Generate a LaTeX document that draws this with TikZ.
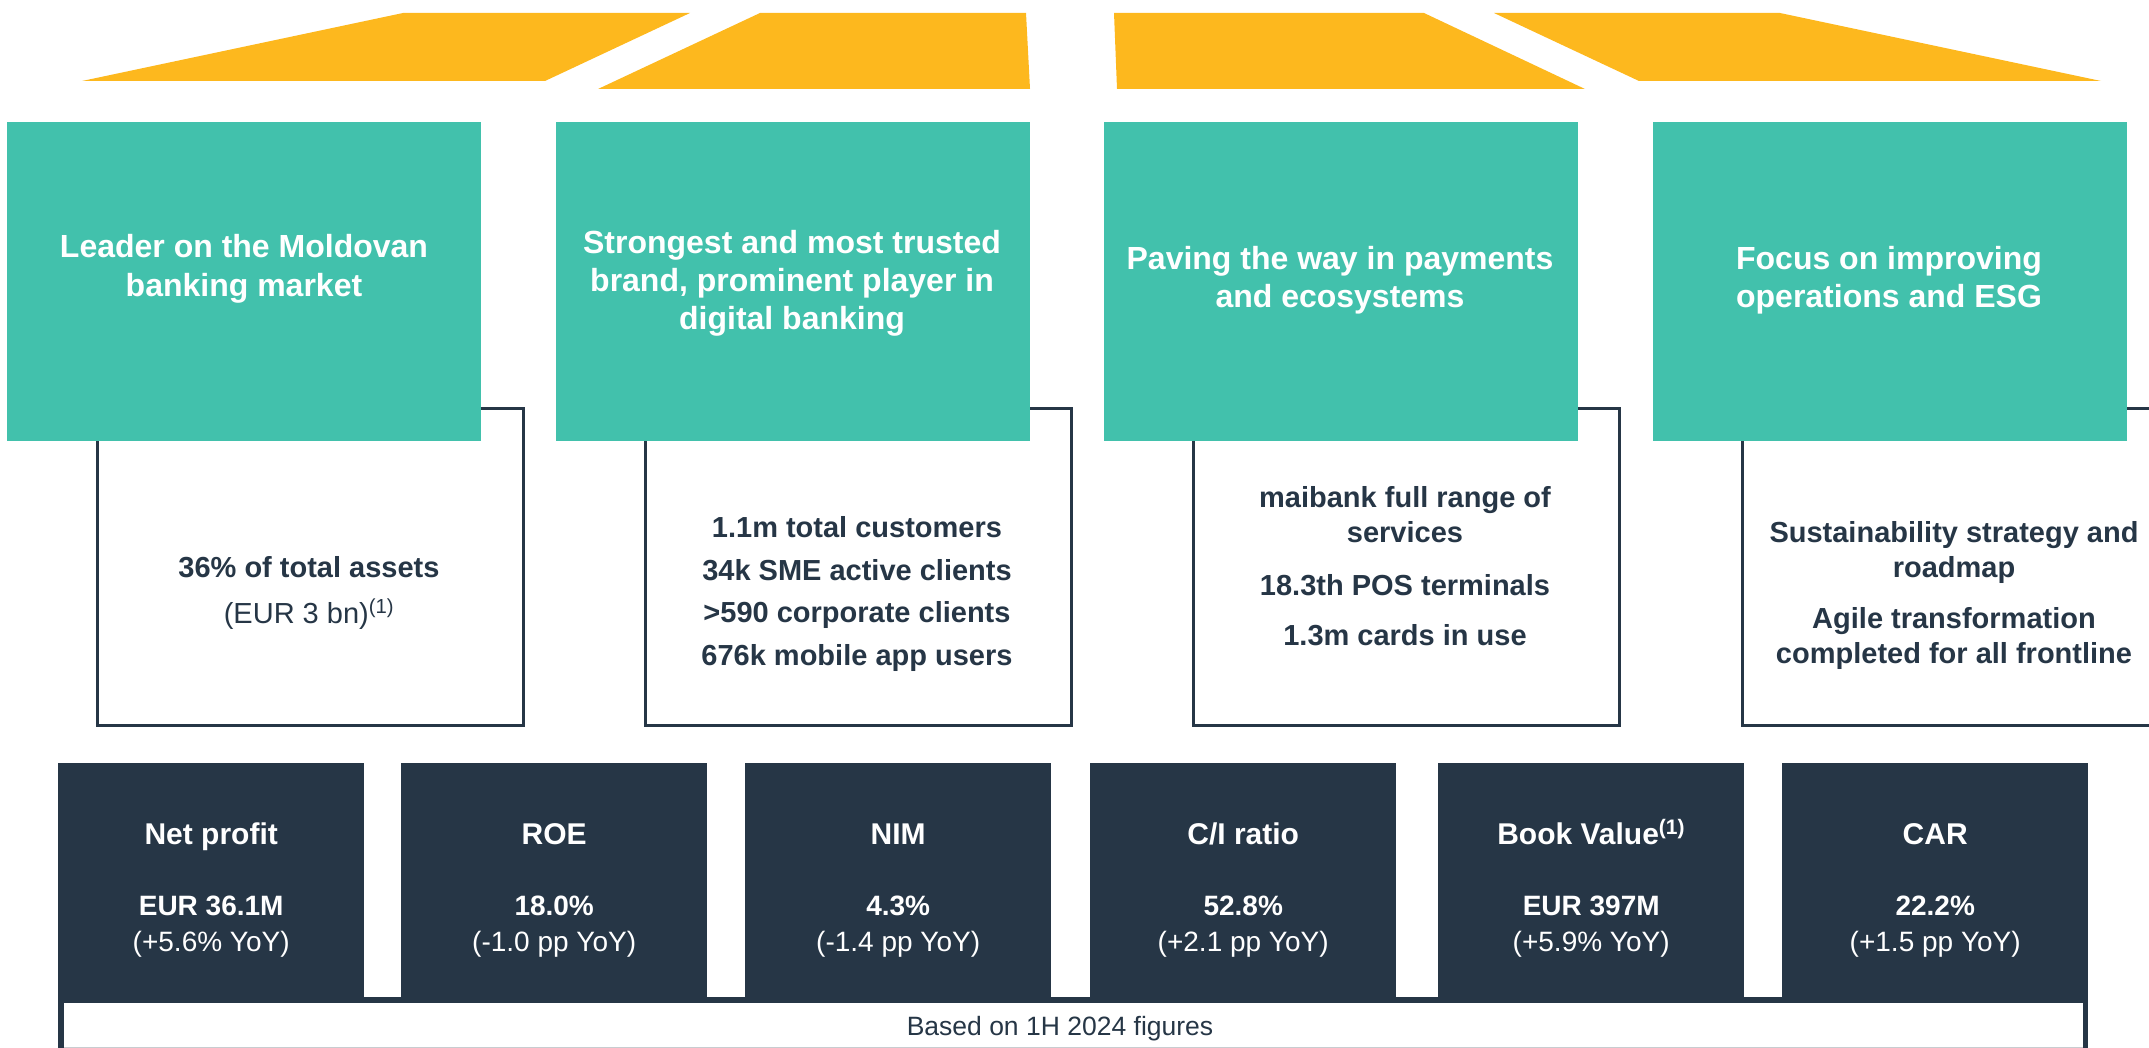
\documentclass[tikz,border=0pt]{standalone}
\usepackage{fontspec}
\setmainfont{Liberation Sans}
\usetikzlibrary{calc}
\definecolor{teal}{HTML}{42C1AC}
\definecolor{dk}{HTML}{263646}
\definecolor{gold}{HTML}{FDB81E}
\definecolor{lgrey}{HTML}{C8CCD0}
\tikzset{
  tealbox/.style={fill=teal, draw=none, anchor=north west, inner sep=0, minimum height=319pt, minimum width=474pt},
  outbox/.style={draw=dk, line width=2.5pt, fill=white, anchor=north west, inner sep=0, minimum height=317pt, minimum width=426pt},
  kpibox/.style={fill=dk, draw=none, anchor=north west, inner sep=0, minimum height=240pt, minimum width=306pt},
  hdr/.style={font=\fontsize{32}{38}\selectfont\bfseries, text=white, anchor=base, inner sep=0},
  body/.style={font=\fontsize{29}{35}\selectfont\bfseries, text=dk, anchor=base, inner sep=0},
  bodyr/.style={font=\fontsize{29}{35}\selectfont, text=dk, anchor=base, inner sep=0},
  kpit/.style={font=\fontsize{30}{36}\selectfont\bfseries, text=white, anchor=base, inner sep=0},
  kpiv/.style={font=\fontsize{28}{34}\selectfont\bfseries, text=white, anchor=base, inner sep=0},
  kpic/.style={font=\fontsize{28}{34}\selectfont, text=white, anchor=base, inner sep=0},
  trap/.style={fill=gold, draw=none}
}
\begin{document}
\begin{tikzpicture}[x=1pt, y=-1pt]
\useasboundingbox (0,0) rectangle (2149,1048);
% yellow trapezoids
\fill[trap] (403,13) -- (690,13) -- (545,81) -- (82,81) -- cycle;
\fill[trap] (760,13) -- (1026,13) -- (1030,89) -- (598,89) -- cycle;
\fill[trap] (1114,13) -- (1424,13) -- (1585,89) -- (1117,89) -- cycle;
\fill[trap] (1494,13) -- (1780,13) -- (2101,81) -- (1639,81) -- cycle;
% outline boxes
\node[outbox] (o1) at (96,407) {};
\node[outbox] (o2) at (644,407) {};
\node[outbox] (o3) at (1192,407) {};
\node[outbox] (o4) at (1741,407) {};
% teal boxes
\node[tealbox] (t1) at (7,122) {};
\node[tealbox] (t2) at (556,122) {};
\node[tealbox] (t3) at (1104,122) {};
\node[tealbox] (t4) at (1653,122) {};
% teal headers
\node[hdr] (h1a) at (244,258) {Leader on the Moldovan};
\node[hdr] (h1b) at (244,297) {banking market};
\node[hdr] (h2a) at (792,254) {Strongest and most trusted};
\node[hdr] (h2b) at (792,292) {brand, prominent player in};
\node[hdr] (h2c) at (792,330) {digital banking};
\node[hdr] (h3a) at (1340,270) {Paving the way in payments};
\node[hdr] (h3b) at (1340,308) {and ecosystems};
\node[hdr] (h4a) at (1889,270) {Focus on improving};
\node[hdr] (h4b) at (1889,308) {operations and ESG};
% outline box texts
\node[body] (b1a) at (309,577) {36\% of total assets};
\node[bodyr] (b1b) at (309,623) {(EUR 3 bn)\textsuperscript{(1)}};
\node[body] (b2a) at (857,537) {1.1m total customers};
\node[body] (b2b) at (857,580) {34k SME active clients};
\node[body] (b2c) at (857,622) {>590 corporate clients};
\node[body] (b2d) at (857,665) {676k mobile app users};
\node[body] (b3a) at (1405,507) {maibank full range of};
\node[body] (b3b) at (1405,542) {services};
\node[body] (b3c) at (1405,595) {18.3th POS terminals};
\node[body] (b3d) at (1405,645) {1.3m cards in use};
\node[body] (b4a) at (1954,542) {Sustainability strategy and};
\node[body] (b4b) at (1954,577) {roadmap};
\node[body] (b4c) at (1954,628) {Agile transformation};
\node[body] (b4d) at (1954,663) {completed for all frontline};
% bottom frame
\fill[dk] (58,997) rectangle (2088,1048);
\node[fill=white, draw=none, anchor=north west, inner sep=0, minimum width=2019pt, minimum height=44pt] (base) at (64,1003) {};
\draw[lgrey, line width=1pt] (base.south west) -- (base.south east);
\node[font=\fontsize{26.5}{32}\selectfont, text=dk, anchor=base, inner sep=0] (basetxt) at (1060,1035) {Based on 1H 2024 figures};
% KPI boxes
\foreach \i/\x/\t/\v/\c in {
  1/58/{Net profit}/{EUR 36.1M}/{(+5.6\% YoY)},
  2/401/{ROE}/{18.0\%}/{(-1.0 pp YoY)},
  3/745/{NIM}/{4.3\%}/{(-1.4 pp YoY)},
  4/1090/{C/I ratio}/{52.8\%}/{(+2.1 pp YoY)},
  5/1438/{Book Value\textsuperscript{(1)}}/{EUR 397M}/{(+5.9\% YoY)},
  6/1782/{CAR}/{22.2\%}/{(+1.5 pp YoY)}} {
  \node[kpibox] (k\i) at (\x,763) {};
  \node[kpit] (k\i t) at ($(k\i.north)+(0,81)$) {\t};
  \node[kpiv] (k\i v) at ($(k\i.north)+(0,152)$) {\v};
  \node[kpic] (k\i c) at ($(k\i.north)+(0,188)$) {\c};
}
\end{tikzpicture}
\end{document}
